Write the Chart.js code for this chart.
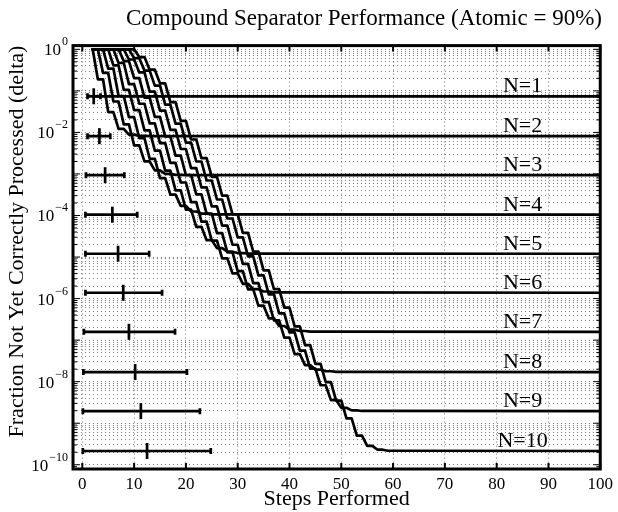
<!DOCTYPE html>
<html><head><meta charset="utf-8">
<script src="https://cdn.jsdelivr.net/npm/chart.js@4"></script>
<style>html,body{margin:0;padding:0;background:#fff}#w{width:618px;height:512px}</style>
</head><body><div id="w"><canvas id="c" width="618" height="512"></canvas></div>
<script>
// Stages N and the level each curve settles at
const stages = [1,2,3,4,5,6,7,8,9,10];
const plateau = [0.0741,8.13e-3,9.33e-4,1.047e-4,1.20e-5,1.38e-6,1.585e-7,1.70e-8,1.95e-9,2.14e-10];
// First step at which each curve is below 1 (it sits at 1 from step 2 until then)
const firstDropStep = [2,3,4,5,6,7,8,9,10,11];
const firstStep = 2;
// Staircase levels read per curve (each level is held for two steps)
const levelsN1 = [0.0741];
const levelsN2 = [0.19,0.0309,0.01222,8.87e-3,8.26e-3,8.15e-3];
const levelsN3 = [0.271,0.0555,0.01562,4.89e-3,2.0e-3,1.22e-3,1.01e-3,9.54e-4,9.39e-4];
const levelsN4 = [0.3439,0.0752,0.02323,7.28e-3,2.32e-3,7.90e-4,3.17e-4,1.702e-4,1.249e-4,1.11e-4,1.066e-4];
const levelsN5 = [0.4095,0.1059,0.0345,0.01125,3.66e-3,1.206e-3,4.01e-4,1.388e-4,5.33e-5,2.55e-5,1.639e-5,1.343e-5,1.247e-5,1.215e-5];
const levelsN6 = [0.4686,0.1459,0.0490,0.01644,5.52e-3,1.854e-3,6.22e-4,2.089e-4,7.15e-5,2.49e-5,9.29e-6,4.04e-6,2.27e-6,1.68e-6,1.48e-6,1.41e-6];
const levelsN7 = [0.5217,0.2018,0.0690,0.0236,8.07e-3,2.761e-3,9.44e-4,3.23e-4,1.104e-4,3.78e-5,1.291e-5,4.58e-6,1.669e-6,6.75e-7,3.35e-7,2.19e-7,1.79e-7,1.656e-7,1.61e-7];
const levelsN8 = [0.5695,0.2786,0.0964,0.03334,0.01153,3.99e-3,1.380e-3,4.78e-4,1.652e-4,5.71e-5,1.977e-5,6.84e-6,2.366e-6,8.18e-7,3.00e-7,1.149e-7,4.6e-8,2.5e-8,1.95e-8,1.78e-8,1.72e-8];
const levelsN9 = [0.6126,0.307,0.134,0.0468,0.01633,5.70e-3,1.995e-3,6.95e-4,2.427e-4,8.47e-5,2.96e-5,1.035e-5,3.61e-6,1.262e-6,4.41e-7,1.538e-7,5.57e-8,2.07e-8,8.2e-9,3.6e-9,2.35e-9,2.04e-9,1.97e-9];
const levelsN10 = [0.6513,0.3236,0.1514,0.0537,0.01905,6.76e-3,2.40e-3,8.51e-4,3.02e-4,1.072e-4,3.80e-5,1.349e-5,4.79e-6,1.698e-6,6.03e-7,2.138e-7,7.59e-8,2.69e-8,9.76e-9,3.5e-9,1.3e-9,5.0e-10,2.85e-10,2.3e-10,2.17e-10];
const levelLists = [levelsN1,levelsN2,levelsN3,levelsN4,levelsN5,levelsN6,levelsN7,levelsN8,levelsN9,levelsN10];
// Error bars: mean and spread of steps, one per N (drawn at that N's level)
const barMean = [2.2,3.3,4.4,5.8,6.9,7.9,9.0,10.2,11.3,12.5];
const barLow = [1.0,1.0,0.7,0.6,0.6,0.6,0.3,0.2,0.1,0.1];
const barHigh = [3.5,5.4,8.1,10.6,12.9,15.4,17.9,20.2,22.7,24.8];
const yTickExp = [0,-2,-4,-6,-8,-10];
const xTicks = [0,10,20,30,40,50,60,70,80,90,100];
const lastStep = 100;

const datasets = stages.map((n,i)=>{
  const pts=[];
  if(firstDropStep[i]>firstStep){pts.push({x:firstStep,y:1});pts.push({x:firstDropStep[i]-1,y:1});}
  levelLists[i].forEach((v,k)=>{
    pts.push({x:firstDropStep[i]+2*k,y:v});
    pts.push({x:firstDropStep[i]+2*k+1,y:v});
  });
  pts.push({x:lastStep,y:plateau[i]});
  return {label:'N='+n,data:pts,borderColor:'#000',borderWidth:2.7,pointRadius:0,fill:false,tension:0,borderJoinStyle:'round',borderCapStyle:'round'};
});

const F = '"Liberation Serif","Times New Roman",serif';
const deco = {
  id:'deco',
  beforeDatasetsDraw(ch){
    const c=ch.ctx, xs=ch.scales.x, ys=ch.scales.y;
    c.save();
    c.fillStyle='#000';c.font='22px '+F;c.textAlign='center';c.textBaseline='alphabetic';
    stages.forEach((n,i)=>{
      c.fillText('N='+n,xs.getPixelForValue(85),ys.getPixelForValue(plateau[i])-4);
    });
    c.restore();
  },
  afterDraw(ch){
    const c=ch.ctx, xs=ch.scales.x, ys=ch.scales.y, a=ch.chartArea;
    c.save();
    c.strokeStyle='#000';c.lineWidth=2.7;
    stages.forEach((n,i)=>{
      const y=ys.getPixelForValue(plateau[i]);
      const x0=xs.getPixelForValue(barLow[i]),x1=xs.getPixelForValue(barHigh[i]),xm=xs.getPixelForValue(barMean[i]);
      c.beginPath();c.moveTo(x0,y);c.lineTo(x1,y);c.stroke();
      c.beginPath();c.moveTo(x0,y-3);c.lineTo(x0,y+3);c.moveTo(x1,y-3);c.lineTo(x1,y+3);c.stroke();
      c.beginPath();c.moveTo(xm,y-8);c.lineTo(xm,y+8);c.stroke();
    });
    c.fillStyle='#000';c.textBaseline='alphabetic';
    yTickExp.forEach(e=>{
      const y=ys.getPixelForValue(Math.pow(10,e));
      const es=String(e).replace('-','\u2212');
      c.font='12px '+F;
      const ew=c.measureText(es).width;
      c.textAlign='left';
      c.fillText(es,a.left-5-ew,y-4);
      c.font='17px '+F;c.textAlign='right';
      c.fillText('10',a.left-6-ew,y+6);
    });
    c.lineWidth=1;
    for(let e=-11;e<=0;e++){for(let k=1;k<10;k++){
      const v=k*Math.pow(10,e);
      if(v<ys.min||v>ys.max) continue;
      const y=ys.getPixelForValue(v);
      const L=(k===1)?7:4;
      c.beginPath();c.moveTo(a.left,y);c.lineTo(a.left+L,y);c.moveTo(a.right,y);c.lineTo(a.right-L,y);c.stroke();
    }}
    c.lineWidth=2;
    xTicks.forEach(t=>{
      const x=xs.getPixelForValue(t);
      c.beginPath();c.moveTo(x,a.bottom);c.lineTo(x,a.bottom-6);c.moveTo(x,a.top);c.lineTo(x,a.top+6);c.stroke();
    });
    c.lineWidth=3;c.strokeRect(a.left,a.top,a.right-a.left,a.bottom-a.top);
    c.restore();
  }
};

new Chart(document.getElementById('c'),{
  type:'line',
  data:{datasets},
  options:{
    responsive:false,animation:false,devicePixelRatio:1,
    layout:{padding:{left:0,right:16,top:0,bottom:0}},
    plugins:{legend:{display:false},tooltip:{enabled:false},
      title:{display:true,align:'end',text:'Compound Separator Performance (Atomic = 90%)',color:'#000',font:{family:F,size:23,weight:'normal'},padding:{top:5,bottom:13}}},
    scales:{
      x:{type:'linear',min:-1.8,max:100,
        afterBuildTicks(s){s.ticks=xTicks.map(v=>({value:v}));},
        afterFit(s){s.height=43;},
        ticks:{color:'#000',font:{family:F,size:17},maxRotation:0,autoSkip:false,padding:5,callback:v=>String(v)},
        grid:{color:'rgba(0,0,0,0.55)',lineWidth:1,drawTicks:false},
        border:{display:false,dash:[1,3]},
        title:{display:true,text:'Steps Performed',color:'#000',font:{family:F,size:22},padding:{top:0,bottom:0}}},
      y:{type:'logarithmic',min:7.9e-11,max:1.23,
        afterFit(s){s.width=73;},
        ticks:{display:false},
        afterBuildTicks(s){const t=[];for(let e=-10;e<=0;e++){for(let k=1;k<10;k++){if(e===0&&k>1)break;t.push({value:k*Math.pow(10,e)});}}s.ticks=t;},
        grid:{color:'rgba(0,0,0,0.5)',lineWidth:1,drawTicks:false},
        border:{display:false,dash:[1,3]},
        title:{display:true,align:'end',text:'Fraction Not Yet Correctly Processed (delta)',color:'#000',font:{family:F,size:22},padding:{top:4,bottom:0}}}
    }
  },
  plugins:[deco]
});
</script></body></html>
